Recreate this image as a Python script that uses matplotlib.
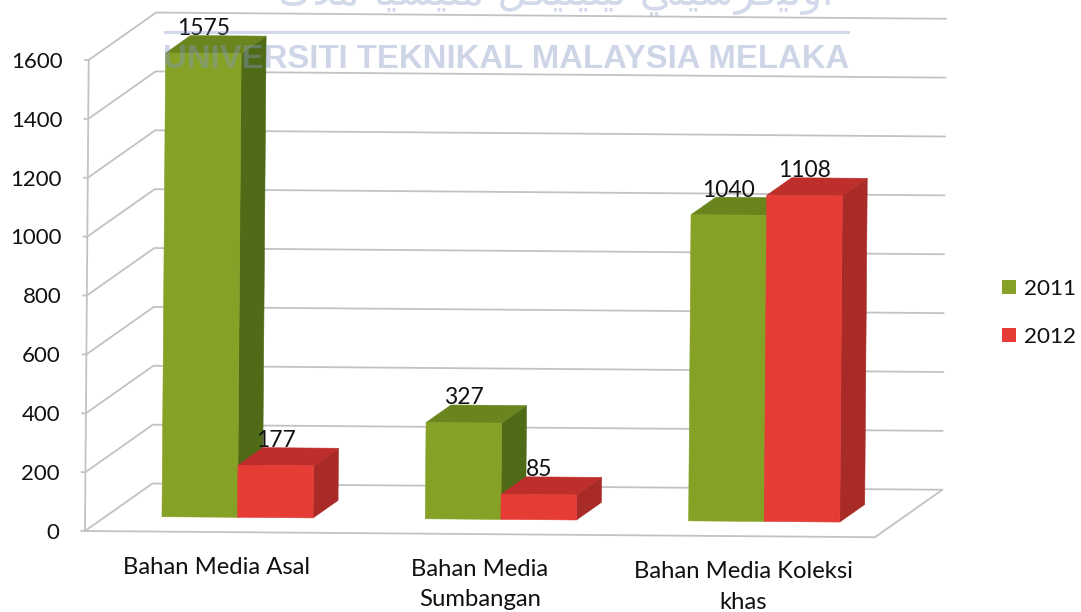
import matplotlib
matplotlib.use("Agg")
import matplotlib.pyplot as plt
from matplotlib.patches import Polygon, Patch
from matplotlib.transforms import Affine2D

categories = ["Bahan Media Asal", "Bahan Media\nSumbangan", "Bahan Media Koleksi\nkhas"]
years = ["2011", "2012"]
values_2011 = [1575, 327, 1040]
values_2012 = [177, 85, 1108]
y_ticks = [0, 200, 400, 600, 800, 1000, 1200, 1400, 1600]
front_colors = ["#86A226", "#E53C36"]
side_colors = ["#4F6B18", "#A92B27"]
top_colors = ["#6B851E", "#BE2E2B"]
grid_color = "#C2C2C2"
watermark = "UNIVERSITI TEKNIKAL MALAYSIA MELAKA"
watermark_jawi = "\uFED9\uFEFC\uFEE3 \uFE8E\uFEF4\uFEB4\uFEF4\uFEE0\uFEE3 \uFEDE\uFEDC\uFEF4\uFEE8\uFEF4\uFEE8\uFEF4\uFE97 \uFEF2\uFE98\uFEF4\uFEB3\uFEAE\uFED7\uFEF4\uFEE7\uFEED\uFE8D"

W, H = 1081, 612
plt.rcParams["font.family"] = ["Lato", "DejaVu Sans"]
fig = plt.figure(figsize=(W / 100, H / 100), dpi=100)
ax = fig.add_axes([85 / W, (H - 531) / H, 790 / W, 471 / H])
ax.set_xlim(0, 3)
ax.set_ylim(0, 1600)
for s in ax.spines.values():
    s.set_visible(False)

rot = Affine2D().rotate_deg_around(85, H - 531, -0.45)
tf = ax.transData + rot

DX, DY = 0.2544, 163.0   # oblique depth in data units
BAR_W = 0.287
D0, D1 = 0.31, 0.68


def p(x, v, d=0.0):
    return (x + d * DX, v + d * DY)


def line(pts, lw=1.3):
    ax.plot([q[0] for q in pts], [q[1] for q in pts], color=grid_color, lw=lw,
            transform=tf, clip_on=False, zorder=1, solid_capstyle="round")


for t in y_ticks:
    line([p(0, t), p(0, t, 1), p(3, t, 1)])
    line([(-0.015, t), (0, t)])
line([p(0, 0), p(0, 1600)])
line([p(0, 0), p(3, 0), p(3, 0, 1)])


def bar(x, v, k, z):
    x2 = x + BAR_W
    faces = [
        ([p(x2, 0, D0), p(x2, 0, D1), p(x2, v, D1), p(x2, v, D0)], side_colors[k]),
        ([p(x, v, D0), p(x2, v, D0), p(x2, v, D1), p(x, v, D1)], top_colors[k]),
        ([p(x, 0, D0), p(x2, 0, D0), p(x2, v, D0), p(x, v, D0)], front_colors[k]),
    ]
    for pts, c in faces:
        ax.add_patch(Polygon(pts, closed=True, facecolor=c, edgecolor=c, lw=0.4,
                             transform=tf, clip_on=False, zorder=z))
    ax.annotate(str(v), xy=p(x + BAR_W / 2, v, D0), xycoords=tf, xytext=(0, 18),
                textcoords="offset points", ha="center", va="center",
                fontsize=16.5, color="#111111", zorder=8, annotation_clip=False)


for i in range(len(categories)):
    c = i + 0.5
    bar(c - BAR_W, values_2011[i], 0, 3)
    bar(c, values_2012[i], 1, 4)

ax.set_yticks(y_ticks)
ax.set_yticklabels([str(t) for t in y_ticks])
ax.set_xticks([i + 0.5 for i in range(len(categories))])
ax.set_xticklabels(categories, linespacing=1.55)
ax.tick_params(axis="y", length=0, pad=18.5, labelsize=16, labelcolor="#111111")
ax.tick_params(axis="x", length=0, pad=18, labelsize=17.2, labelcolor="#111111")
for lab in ax.get_yticklabels() + ax.get_xticklabels():
    lab.set_transform(lab.get_transform() + rot)

# watermark
fig.text(506.5 / W, 1 - 59.5 / H, watermark, family="Liberation Sans", fontweight="bold",
         fontsize=23.7, color="#8296C5", alpha=0.4, ha="center", va="center", zorder=6)
fig.add_artist(plt.Line2D([165 / W, 848 / W], [1 - 32 / H] * 2, color="#8296C5", alpha=0.36, lw=2.2, zorder=6))
fig.text(556 / W, 1 + 6 / H, watermark_jawi, family="DejaVu Sans", fontsize=30,
         color="#8296C5", alpha=0.36, ha="center", va="center", zorder=6)

handles = [Patch(facecolor=front_colors[0], label=years[0]),
           Patch(facecolor=front_colors[1], label=years[1])]
fig.legend(handles=handles, loc="upper left", bbox_to_anchor=(995 / W, 1 - 272 / H),
           frameon=False, fontsize=16.2, handlelength=0.62, handleheight=0.62,
           handletextpad=0.35, labelspacing=1.25, borderpad=0.3, borderaxespad=0,
           labelcolor="#111111")

fig.savefig("out.png", dpi=100)
